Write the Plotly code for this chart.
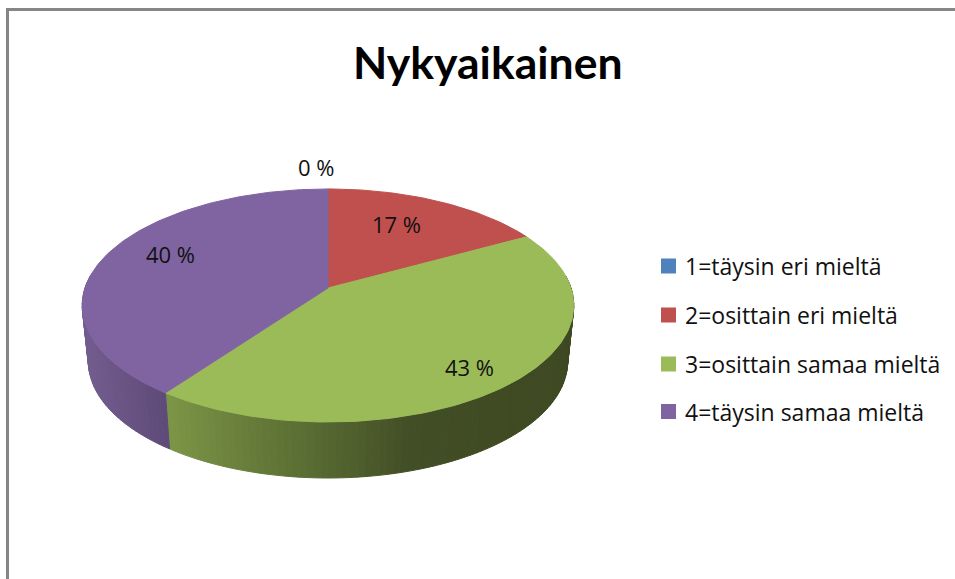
"""3D style pie chart, Nykyaikainen survey answers."""

from __future__ import annotations

import math

import plotly.graph_objects as go

TITLE = "Nykyaikainen"
categories = [
    "1=täysin eri mieltä",
    "2=osittain eri mieltä",
    "3=osittain samaa mieltä",
    "4=täysin samaa mieltä",
]
values = [0, 17, 43, 40]
colors = ["#4F81BD", "#C0504D", "#9BBB59", "#8064A2"]

# side wall shading, (screen x, colour) stops per slice
side_stops = {
    2: [(165, (124, 150, 70)), (250, (103, 124, 58)), (330, (84, 102, 48)), (410, (66, 78, 37)), (575, (62, 72, 34))],
    3: [(85, (114, 92, 142)), (165, (94, 74, 120))],
}

FONT = "Open Sans, Lato, sans-serif"
TITLE_FONT = "Lato, Open Sans, sans-serif"
TEXT = "#111111"
FRAME = "#868686"

# projection of the pie disc onto the page, in page pixels
CX, CY = 328, 288
A, B = 243, 113.9
TILT = 0.15
DEPTH = 56
BOTTOM_SCALE = 0.975


def _top(deg: float) -> tuple[float, float]:
    u, v = math.sin(math.radians(deg)), math.cos(math.radians(deg))
    w = 1 + TILT * v
    return CX + A * u / w, CY - B * v / w


def _bottom(deg: float) -> tuple[float, float]:
    u, v = math.sin(math.radians(deg)), math.cos(math.radians(deg))
    w = 1 + TILT * v
    return CX + BOTTOM_SCALE * A * u / w, CY + DEPTH - B * v / w


def _shade(stops: list, x: float) -> str:
    if x <= stops[0][0]:
        rgb = stops[0][1]
    elif x >= stops[-1][0]:
        rgb = stops[-1][1]
    else:
        for (x0, c0), (x1, c1) in zip(stops, stops[1:]):
            if x0 <= x <= x1:
                t = (x - x0) / (x1 - x0)
                rgb = tuple(round(a + (b - a) * t) for a, b in zip(c0, c1))
                break
    return f"rgb({rgb[0]},{rgb[1]},{rgb[2]})"


def _poly(fig: go.Figure, pts: list, color: str) -> None:
    fig.add_trace(
        go.Scatter(
            x=[p[0] for p in pts] + [pts[0][0]],
            y=[p[1] for p in pts] + [pts[0][1]],
            mode="lines",
            fill="toself",
            fillcolor=color,
            line=dict(color=color, width=1),
            hoverinfo="skip",
            showlegend=False,
        )
    )


fig = go.Figure()

# slice limits, clockwise from twelve o'clock
total = sum(values)
limits = [0.0]
for val in values:
    limits.append(limits[-1] + val / total * 360)

# side wall, only the part facing the viewer
for i, val in enumerate(values):
    if i not in side_stops:
        continue
    start = max(limits[i], 84.0)
    end = min(limits[i + 1], 276.0)
    n = max(2, int((end - start) / 1.5))
    for k in range(n):
        d0 = start + (end - start) * k / n
        d1 = start + (end - start) * (k + 1) / n
        xm = _top((d0 + d1) / 2)[0]
        _poly(fig, [_top(d0), _top(d1), _bottom(d1), _bottom(d0)], _shade(side_stops[i], xm))

# top face
for i, val in enumerate(values):
    if val == 0:
        continue
    n = max(8, int(val * 3))
    arc = [_top(limits[i] + (limits[i + 1] - limits[i]) * k / n) for k in range(n + 1)]
    _poly(fig, [(CX, CY)] + arc, colors[i])

# legend
legend_x = [668.5] * len(categories)
legend_y = [266, 315, 364, 411.5]
fig.add_trace(
    go.Scatter(
        x=legend_x,
        y=legend_y,
        mode="markers",
        marker=dict(symbol="square", size=15, color=colors, line=dict(width=0)),
        hoverinfo="skip",
        showlegend=False,
    )
)
for name, y in zip(categories, legend_y):
    fig.add_annotation(
        x=683, y=y, xref="x", yref="y",
        text=name, showarrow=False, xanchor="left",
        font=dict(family=FONT, size=23, color=TEXT),
    )

# percent labels
label_x = [316, 396, 469, 170]
label_y = [167, 224, 367, 254]
for val, x, y in zip(values, label_x, label_y):
    fig.add_annotation(
        x=x, y=y, xref="x", yref="y",
        text=f"{val} %", showarrow=False,
        font=dict(family=FONT, size=22, color=TEXT),
    )

fig.add_annotation(
    x=488, y=61, xref="x", yref="y",
    text=f"<b>{TITLE}</b>", showarrow=False,
    font=dict(family=TITLE_FONT, size=44.5, color="#000000"),
)

# chart frame, runs off the right and bottom of the crop
fig.add_shape(type="line", x0=7.5, x1=7.5, y0=8, y1=579, line=dict(color=FRAME, width=3))
fig.add_shape(type="line", x0=6, x1=955, y0=9.5, y1=9.5, line=dict(color=FRAME, width=3))

fig.update_xaxes(range=[0, 955], visible=False, fixedrange=True)
fig.update_yaxes(range=[579, 0], visible=False, fixedrange=True)
fig.update_layout(
    width=955,
    height=579,
    margin=dict(t=0, r=0, b=0, l=0),
    paper_bgcolor="white",
    plot_bgcolor="white",
    showlegend=False,
)

fig.write_html(
    "out.html",
    config=dict(displayModeBar=False),
    post_script="document.body.style.margin='0';",
)
